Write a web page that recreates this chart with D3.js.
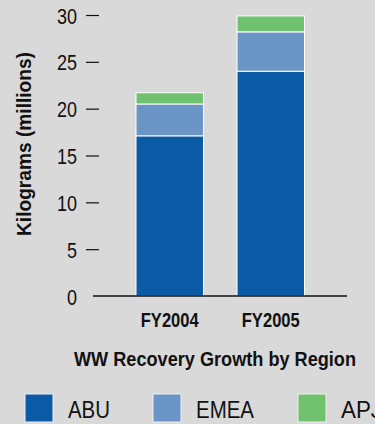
<!DOCTYPE html>
<html>
<head>
<meta charset="utf-8">
<script src="https://cdn.jsdelivr.net/npm/d3@7"></script>
<style>
  html, body { margin: 0; padding: 0; background: #d9d9d9; }
  svg { display: block; font-family: "Liberation Sans", Arial, sans-serif; }
</style>
</head>
<body>
<svg id="chart" width="375" height="424"></svg>
<script>
// Recovered volume per fiscal year, millions of kilograms, split by region
const years = ["FY2004", "FY2005"];
const regions = ["ABU", "EMEA", "APJ"];
const abu = [17.1, 24.0];
const emea = [3.4, 4.2];
const apj = [1.2, 1.7];
const yTicks = [0, 5, 10, 15, 20, 25, 30];
const colors = ["#0a5aa5", "#6b95c6", "#71c26e"];

const svg = d3.select("#chart");
const ink = "#111";
const rows = years.map((y, i) => ({ year: y, ABU: abu[i], EMEA: emea[i], APJ: apj[i] }));
const stacked = d3.stack().keys(regions)(rows);

const y = d3.scaleLinear().domain([0, 30]).range([296, 15]);
const x = d3.scaleBand().domain(years).range([136, 304.5]).paddingInner(0.332).paddingOuter(0);

// condensed look: squeeze the glyphs of a text to a given width
function squeeze(sel, width) {
  sel.attr("lengthAdjust", "spacingAndGlyphs")
     .attr("textLength", function () { return width(this.textContent); });
}

// stacked bars
svg.append("g").selectAll("g").data(stacked).join("g")
  .attr("fill", (d, i) => colors[i])
  .selectAll("rect").data(d => d).join("rect")
  .attr("x", d => x(d.data.year))
  .attr("width", x.bandwidth())
  .attr("y", d => y(d[1]))
  .attr("height", d => y(d[0]) - y(d[1]))
  .attr("stroke", "#ffffff")
  .attr("stroke-width", 1);

// value axis: tick dashes and labels, no spine
const yAxis = svg.append("g").attr("transform", "translate(99,0)")
  .call(d3.axisLeft(y).tickValues(yTicks).tickSize(13).tickPadding(9));
yAxis.select(".domain").remove();
yAxis.selectAll(".tick line").attr("stroke", ink).attr("stroke-width", 1.2);
yAxis.selectAll(".tick text").attr("fill", ink).attr("font-size", 22.5)
  .attr("font-family", "Liberation Sans, Arial, sans-serif")
  .attr("dy", "0.36em")
  .call(squeeze, t => t.length * 10);
yAxis.selectAll(".tick").filter(d => d === 0).select("line").remove();

// baseline
svg.append("line").attr("x1", 93).attr("x2", 347).attr("y1", y(0)).attr("y2", y(0))
  .attr("stroke", ink).attr("stroke-width", 1.4);

// category labels
const xAxis = svg.append("g").attr("transform", `translate(0,${y(0)})`)
  .call(d3.axisBottom(x).tickSize(0).tickPadding(16));
xAxis.select(".domain").remove();
xAxis.selectAll(".tick text").attr("fill", ink).attr("font-size", 21).attr("font-weight", "bold")
  .attr("font-family", "Liberation Sans, Arial, sans-serif")
  .attr("dy", "0.71em")
  .call(squeeze, () => 58);

// y title
svg.append("text")
  .attr("transform", "translate(31,144) rotate(-90)")
  .attr("text-anchor", "middle")
  .attr("font-size", 21).attr("font-weight", "bold").attr("fill", ink)
  .text("Kilograms (millions)")
  .call(squeeze, () => 184);

// chart title
svg.append("text")
  .attr("x", 215).attr("y", 365.5)
  .attr("text-anchor", "middle")
  .attr("font-size", 20).attr("font-weight", "bold").attr("fill", ink)
  .text("WW Recovery Growth by Region")
  .call(squeeze, () => 282);

// legend
const legendX = [25, 153, 298];
const legendW = { ABU: 42, EMEA: 58, APJ: 41 };
const legend = svg.append("g").selectAll("g").data(regions).join("g")
  .attr("transform", (d, i) => `translate(${legendX[i]},394)`);
legend.append("rect").attr("width", 28).attr("height", 28)
  .attr("fill", (d, i) => colors[i]).attr("stroke", "#f0f0f0").attr("stroke-width", 1);
legend.append("text").attr("x", 43).attr("y", 23.5)
  .attr("font-size", 24).attr("fill", ink)
  .text(d => d)
  .call(squeeze, t => legendW[t]);
</script>
</body>
</html>
